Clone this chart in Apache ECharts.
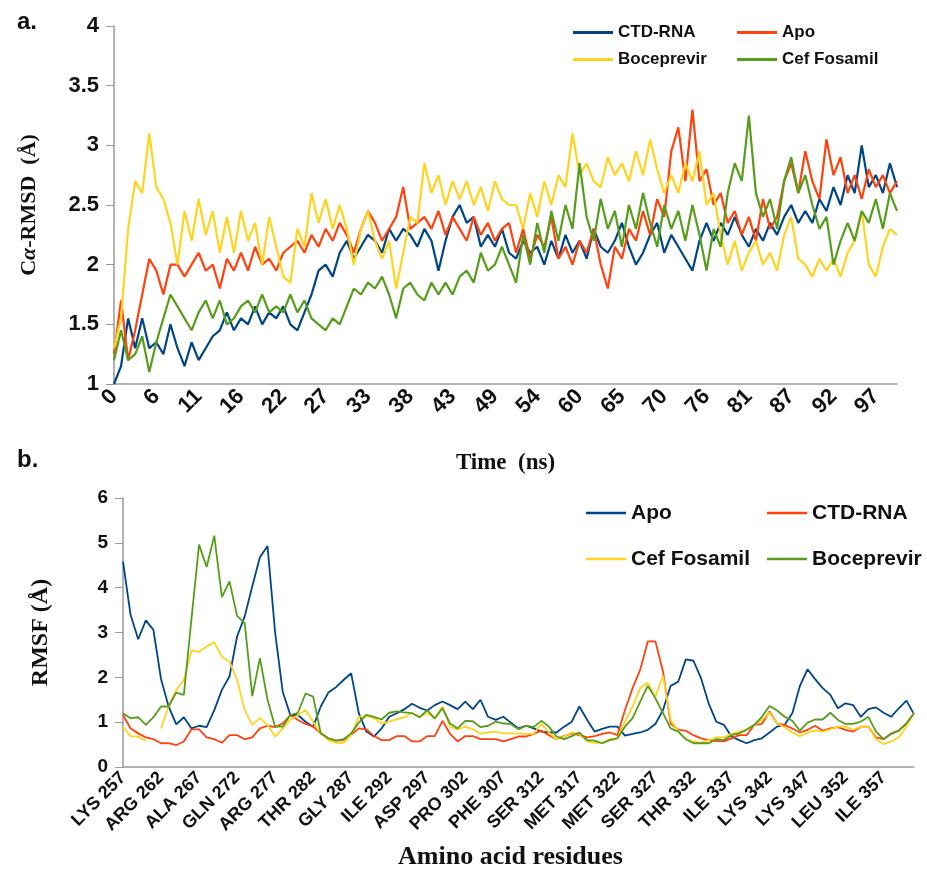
<!DOCTYPE html>
<html>
<head>
<meta charset="utf-8">
<script src="https://cdn.jsdelivr.net/npm/echarts@6/dist/echarts.min.js"></script>
<style>
  html, body { margin: 0; padding: 0; background: #fff; }
  #chart { width: 927px; height: 872px; }
</style>
</head>
<body>
<div id="chart"></div>
<script>
// panel a: C-alpha RMSD over time (one value per sampled frame)
const timeLabels = ['0', '6', '11', '16', '22', '27', '33', '38', '43', '49', '54', '60', '65', '70', '76', '81', '87', '92', '97'];

const rmsdCtdRna = [1.0, 1.15, 1.55, 1.3, 1.55, 1.3, 1.35, 1.25, 1.5, 1.3,
  1.15, 1.35, 1.2, 1.3, 1.4, 1.45, 1.6, 1.45, 1.55, 1.5,
  1.65, 1.5, 1.6, 1.55, 1.65, 1.5, 1.45, 1.6, 1.75, 1.95,
  2.0, 1.9, 2.1, 2.2, 2.05, 2.15, 2.25, 2.2, 2.1, 2.3,
  2.2, 2.3, 2.25, 2.15, 2.3, 2.2, 1.95, 2.2, 2.4, 2.5,
  2.35, 2.4, 2.15, 2.25, 2.15, 2.3, 2.1,
  2.05, 2.2, 2.1, 2.15, 2.0, 2.2, 2.05, 2.25, 2.1, 2.2,
  2.05, 2.3, 2.15, 2.1, 2.2, 2.35, 2.15, 2.0, 2.1, 2.25,
  2.35, 2.1, 2.25, 2.15, 2.05, 1.95, 2.2, 2.35, 2.2, 2.35,
  2.25, 2.4, 2.25, 2.15, 2.3, 2.2, 2.35, 2.25, 2.4, 2.5,
  2.35, 2.45, 2.35, 2.55, 2.45, 2.65, 2.5, 2.75, 2.6, 3.0,
  2.65, 2.75, 2.6, 2.85, 2.65];

const rmsdApo = [1.25, 1.7, 1.2, 1.45, 1.75, 2.05, 1.95, 1.75, 2.0, 2.0,
  1.9, 2.0, 2.1, 1.95, 2.0, 1.8, 2.05, 1.95, 2.1, 1.95,
  2.15, 2.0, 2.05, 1.95, 2.1, 2.15, 2.2, 2.1, 2.25, 2.15,
  2.3, 2.2, 2.35, 2.25, 2.1, 2.3, 2.45, 2.35, 2.2, 2.3,
  2.4, 2.65, 2.3, 2.35, 2.4, 2.3, 2.45, 2.25, 2.4, 2.3,
  2.2, 2.4, 2.25, 2.35, 2.2, 2.3, 2.35,
  2.1, 2.3, 2.05, 2.25, 2.15, 2.4, 2.05, 2.15, 2.0, 2.2,
  2.1, 2.3, 2.0, 1.8, 2.15, 2.05, 2.3, 2.2, 2.45, 2.25,
  2.55, 2.4, 2.95, 3.15, 2.7, 3.3, 2.7, 2.8, 2.5, 2.6,
  2.35, 2.45, 2.25, 2.4, 2.2, 2.55, 2.3, 2.4, 2.7, 2.85,
  2.6, 2.95, 2.7, 2.55, 3.05, 2.75, 2.9, 2.6, 2.75, 2.55,
  2.8, 2.65, 2.75, 2.6, 2.7];

const rmsdBoceprevir = [1.3, 1.55, 2.3, 2.7, 2.6, 3.1, 2.65, 2.55, 2.35, 2.0,
  2.45, 2.2, 2.55, 2.25, 2.45, 2.1, 2.4, 2.1, 2.45, 2.2,
  2.35, 2.0, 2.4, 2.15, 1.9, 1.85, 2.3, 2.15, 2.6, 2.35,
  2.55, 2.3, 2.5, 2.3, 2.0, 2.3, 2.45, 2.2, 2.05, 2.2,
  1.8, 2.1, 2.4, 2.35, 2.85, 2.6, 2.75, 2.5, 2.7, 2.55,
  2.7, 2.5, 2.65, 2.45, 2.7, 2.55, 2.5,
  2.5, 2.3, 2.6, 2.4, 2.7, 2.5, 2.75, 2.65, 3.1, 2.75,
  2.85, 2.7, 2.65, 2.9, 2.75, 2.85, 2.7, 2.95, 2.75, 3.05,
  2.8, 2.6, 2.75, 2.6, 2.85, 2.7, 2.95, 2.5, 2.6, 2.25,
  2.0, 2.2, 1.95, 2.1, 2.2, 2.0, 2.1, 1.95, 2.25, 2.4,
  2.05, 2.0, 1.9, 2.05, 1.95, 2.05, 1.9, 2.1, 2.2, 2.45,
  2.0, 1.9, 2.15, 2.3, 2.25];

const rmsdCefFosamil = [1.2, 1.45, 1.2, 1.25, 1.4, 1.1, 1.35, 1.55, 1.75, 1.65,
  1.55, 1.45, 1.6, 1.7, 1.55, 1.7, 1.5, 1.55, 1.65, 1.7,
  1.6, 1.75, 1.6, 1.65, 1.6, 1.75, 1.6, 1.7, 1.55, 1.5,
  1.45, 1.55, 1.5, 1.65, 1.8, 1.75, 1.85, 1.8, 1.9, 1.75,
  1.55, 1.8, 1.85, 1.75, 1.7, 1.85, 1.75, 1.85, 1.75, 1.9,
  1.95, 1.85, 2.1, 1.95, 2.0, 2.15, 2.0,
  1.85, 2.25, 2.0, 2.35, 2.1, 2.45, 2.2, 2.5, 2.3, 2.85,
  2.4, 2.2, 2.55, 2.3, 2.45, 2.15, 2.5, 2.3, 2.6, 2.35,
  2.15, 2.5, 2.3, 2.45, 2.2, 2.5, 2.25, 1.95, 2.3, 2.15,
  2.6, 2.85, 2.7, 3.25, 2.6, 2.4, 2.55, 2.3, 2.7, 2.9,
  2.6, 2.75, 2.5, 2.3, 2.4, 2.0, 2.2, 2.35, 2.2, 2.45,
  2.35, 2.55, 2.3, 2.6, 2.45];

// panel b: RMSF per residue, LYS 257 .. 361
const residueLabels = ['LYS 257', 'ARG 262', 'ALA 267', 'GLN 272', 'ARG 277', 'THR 282', 'GLY 287', 'ILE 292', 'ASP 297', 'PRO 302',
  'PHE 307', 'SER 312', 'MET 317', 'MET 322', 'SER 327', 'THR 332', 'ILE 337', 'LYS 342', 'LYS 347', 'LEU 352', 'ILE 357'];

const rmsfApo = [4.58, 3.39, 2.85, 3.27, 3.06, 1.96, 1.35, 0.95, 1.11, 0.86,
  0.92, 0.89, 1.27, 1.72, 2.02, 2.91, 3.36, 4.03, 4.68, 4.93,
  3.0, 1.68, 1.16, 1.16, 1.01, 0.9, 1.35, 1.66, 1.78, 1.94,
  2.09, 1.2, 0.79, 0.68, 0.86, 1.12, 1.2, 1.29, 1.41, 1.32,
  1.26, 1.38, 1.46, 1.38, 1.29, 1.46, 1.29, 1.5, 1.12, 1.05,
  1.12, 0.99, 0.86,
  0.92, 0.86, 0.79, 0.77, 0.77, 0.9, 1.01, 1.35, 1.06, 0.79,
  0.85, 0.9, 0.9, 0.7, 0.74, 0.77, 0.83, 0.96, 1.27, 1.81,
  1.9, 2.4, 2.37, 1.98, 1.42, 1.01, 0.94, 0.68, 0.6, 0.53,
  0.6, 0.64, 0.77, 0.9, 0.94, 1.2, 1.81, 2.18, 1.96, 1.76,
  1.61, 1.31, 1.42, 1.38, 1.12, 1.29, 1.33, 1.21, 1.12, 1.31,
  1.48, 1.18];

const rmsfCtdRna = [1.16, 0.86, 0.75, 0.66, 0.62, 0.53, 0.53, 0.49, 0.57, 0.84,
  0.84, 0.66, 0.62, 0.54, 0.71, 0.71, 0.62, 0.66, 0.86, 0.92,
  0.89, 0.97, 1.16, 1.05, 0.96, 0.9, 0.75, 0.64, 0.59, 0.6,
  0.71, 0.86, 0.84, 0.69, 0.6, 0.6, 0.69, 0.69, 0.57, 0.57,
  0.69, 0.69, 1.03, 0.74, 0.57, 0.69, 0.69, 0.62, 0.62, 0.62,
  0.57, 0.62, 0.68,
  0.68, 0.74, 0.81, 0.71, 0.62, 0.69, 0.75, 0.71, 0.66, 0.69,
  0.74, 0.77, 0.71, 1.27, 1.76, 2.17, 2.8, 2.8, 2.13, 0.97,
  0.83, 0.81, 0.71, 0.64, 0.6, 0.58, 0.57, 0.64, 0.71, 0.71,
  0.94, 0.96, 1.24, 0.97, 0.94, 0.86, 0.77, 0.83, 0.92, 0.81,
  0.86, 0.89, 0.83, 0.79, 0.9, 0.9, 0.66, 0.62, 0.75, 0.81,
  0.97, 1.2];

const rmsfCefFosamil = [0.89, 0.69, 0.68, 0.58, null, 0.86, 1.35, 1.72, 1.94, 2.6,
  2.57, 2.69, 2.78, 2.46, 2.35, 1.94, 1.27, 0.94, 1.09, 0.94,
  0.68, 0.86, 1.05, 1.16, 1.27, 1.01, 0.75, 0.6, 0.54, 0.54,
  0.71, 1.12, 1.14, 1.09, 0.97, 1.01, 1.06, 1.11, 1.21, 1.12,
  1.2, 1.09, 1.35, 0.9, 0.83, 0.9, 0.84, 0.74, 0.77, 0.79,
  0.75, 0.75, 0.75,
  0.74, 0.74, 0.96, 0.77, 0.62, 0.68, 0.77, 0.74, 0.57, 0.54,
  0.54, 0.62, 0.64, 1.01, 1.35, 1.76, 1.88, 1.57, 2.03, 1.05,
  0.79, 0.62, 0.57, 0.54, 0.6, 0.66, 0.66, 0.74, 0.79, 0.84,
  0.94, 1.05, 1.21, 0.97, 0.89, 0.77, 0.69, 0.77, 0.81, 0.79,
  0.84, 0.9, 0.9, 0.83, 0.9, 0.9, 0.62, 0.51, 0.57, 0.66,
  0.9, 1.21];

const rmsfBoceprevir = [1.2, 1.09, 1.11, 0.94, 1.11, 1.35, 1.35, 1.66, 1.61, 3.3,
  4.96, 4.46, 5.16, 3.79, 4.14, 3.37, 3.21, 1.58, 2.43, 1.5,
  0.9, 0.9, 1.16, 1.21, 1.64, 1.57, 0.75, 0.64, 0.59, 0.62,
  0.75, 0.99, 1.16, 1.12, 1.06, 1.21, 1.24, 1.22, 1.2, 1.11,
  1.27, 1.08, 1.31, 0.97, 0.86, 1.03, 1.02, 0.89, 0.92, 1.01,
  0.97, 0.96, 0.84,
  0.92, 0.89, 1.03, 0.9, 0.68, 0.62, 0.69, 0.77, 0.6, 0.59,
  0.53, 0.6, 0.64, 0.9, 1.09, 1.46, 1.81, 1.53, 1.2, 0.86,
  0.79, 0.62, 0.53, 0.53, 0.53, 0.62, 0.6, 0.71, 0.75, 0.83,
  0.94, 1.12, 1.36, 1.26, 1.12, 1.03, 0.81, 0.99, 1.06, 1.06,
  1.21, 1.05, 0.96, 0.96, 1.01, 1.12, 0.79, 0.62, 0.74, 0.81,
  0.97, 1.2];

const BLUE = '#004586', RED = '#ff420e', YELLOW = '#ffd320', GREEN = '#579d1c';
const SANS = '"Liberation Sans", Arial, sans-serif';
const SERIF = '"Liberation Serif", "Times New Roman", serif';
const INK = '#111';
const AXIS_GREY = '#9a9a9a';

const frames = rmsdCtdRna.map((v, i) => i);
const residues = rmsfApo.map((v, i) => String(257 + i));

function lineSeries(name, data, color, axis, width) {
  return {
    name: name, type: 'line', data: data,
    xAxisIndex: axis, yAxisIndex: axis,
    symbol: 'none', connectNulls: false,
    lineStyle: { color: color, width: width },
    itemStyle: { color: color },
    emphasis: { disabled: true },
    animation: false
  };
}

const chart = echarts.init(document.getElementById('chart'));
chart.setOption({
  backgroundColor: '#fff',
  title: [
    { text: 'a.', left: 17, top: 10, padding: 0, textStyle: { fontFamily: SANS, fontWeight: 'bold', fontSize: 24, color: INK } },
    { text: 'b.', left: 17, top: 448, padding: 0, textStyle: { fontFamily: SANS, fontWeight: 'bold', fontSize: 24, color: INK } }
  ],
  legend: [
    {
      left: 573, top: 24, width: 330, padding: 0,
      icon: 'rect', itemWidth: 40, itemHeight: 3, itemGap: 10,
      data: ['a:CTD-RNA', 'a:Apo', 'a:Boceprevir', 'a:Cef Fosamil'],
      formatter: n => n.slice(2),
      textStyle: { fontFamily: SANS, fontWeight: 'bold', fontSize: 17, color: INK, width: 109, lineHeight: 17 }
    },
    {
      left: 586, top: 495, width: 370, padding: 0,
      icon: 'rect', itemWidth: 40, itemHeight: 2.5, itemGap: 10,
      data: ['b:Apo', 'b:CTD-RNA', 'b:Cef Fosamil', 'b:Boceprevir'],
      formatter: n => n.slice(2),
      textStyle: { fontFamily: SANS, fontWeight: 'bold', fontSize: 21, color: INK, width: 126, lineHeight: 36 }
    }
  ],
  grid: [
    { left: 114, right: 30, top: 26, height: 358 },
    { left: 123, right: 13, top: 498, height: 269 }
  ],
  xAxis: [
    {
      type: 'category', gridIndex: 0, data: frames, boundaryGap: false,
      name: 'Time  (ns)', nameLocation: 'middle', nameGap: 68,
      nameTextStyle: { fontFamily: SERIF, fontWeight: 'bold', fontSize: 23, color: INK },
      axisLine: { lineStyle: { color: AXIS_GREY, width: 1.5 } },
      axisTick: { show: false },
      axisLabel: {
        interval: 5, rotate: 45, margin: 9,
        fontFamily: SANS, fontWeight: 'bold', fontSize: 22, color: INK,
        formatter: (v, idx) => timeLabels[idx / 6]
      },
      splitLine: { show: false }
    },
    {
      type: 'category', gridIndex: 1, data: residues, boundaryGap: false,
      name: 'Amino acid residues', nameLocation: 'middle', nameGap: 77,
      nameTextStyle: { fontFamily: SERIF, fontWeight: 'bold', fontSize: 26, color: INK, padding: [0, 16, 0, 0] },
      axisLine: { lineStyle: { color: AXIS_GREY, width: 1.5 } },
      axisTick: { show: false },
      axisLabel: {
        interval: 4, rotate: 45, margin: 8,
        fontFamily: SANS, fontWeight: 'bold', fontSize: 18, color: INK,
        formatter: (v, idx) => residueLabels[idx / 5]
      },
      splitLine: { show: false }
    }
  ],
  yAxis: [
    {
      type: 'value', gridIndex: 0, min: 1, max: 4, interval: 0.5,
      name: 'C{i|α}-RMSD  (Å)', nameLocation: 'middle', nameGap: 74, nameRotate: 90,
      nameTextStyle: {
        fontFamily: SERIF, fontWeight: 'bold', fontSize: 22, color: INK,
        rich: { i: { fontFamily: SERIF, fontWeight: 'bold', fontStyle: 'italic', fontSize: 22, color: INK } }
      },
      axisLine: { show: true, lineStyle: { color: AXIS_GREY, width: 1.5 } },
      axisTick: { show: true, length: 8, lineStyle: { color: AXIS_GREY } },
      axisLabel: { margin: 15, fontFamily: SANS, fontWeight: 'bold', fontSize: 22, color: INK },
      splitLine: { show: false }
    },
    {
      type: 'value', gridIndex: 1, min: 0, max: 6, interval: 1,
      name: 'RMSF (Å)', nameLocation: 'middle', nameGap: 70, nameRotate: 90,
      nameTextStyle: { fontFamily: SERIF, fontWeight: 'bold', fontSize: 24, color: INK },
      axisLine: { show: true, lineStyle: { color: AXIS_GREY, width: 1.5 } },
      axisTick: { show: true, length: 8, lineStyle: { color: AXIS_GREY } },
      axisLabel: { margin: 15, fontFamily: SANS, fontWeight: 'bold', fontSize: 19, color: INK },
      splitLine: { show: false }
    }
  ],
  series: [
    lineSeries('a:CTD-RNA', rmsdCtdRna, BLUE, 0, 2.2),
    lineSeries('a:Apo', rmsdApo, RED, 0, 2.2),
    lineSeries('a:Boceprevir', rmsdBoceprevir, YELLOW, 0, 2.2),
    lineSeries('a:Cef Fosamil', rmsdCefFosamil, GREEN, 0, 2.2),
    lineSeries('b:Apo', rmsfApo, BLUE, 1, 1.8),
    lineSeries('b:CTD-RNA', rmsfCtdRna, RED, 1, 1.8),
    lineSeries('b:Cef Fosamil', rmsfCefFosamil, YELLOW, 1, 1.8),
    lineSeries('b:Boceprevir', rmsfBoceprevir, GREEN, 1, 1.8)
  ]
});
</script>
</body>
</html>
